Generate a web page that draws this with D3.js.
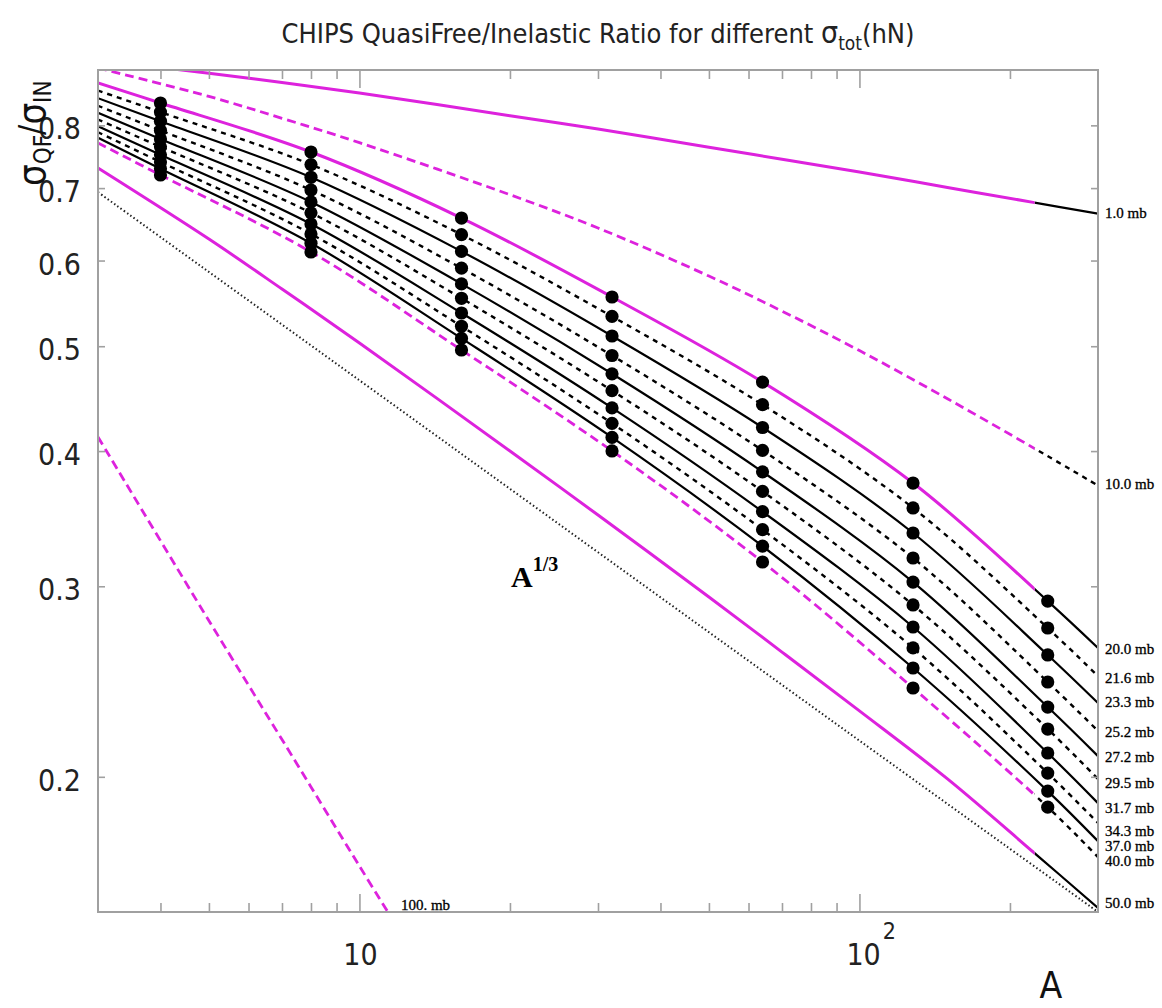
<!DOCTYPE html>
<html><head><meta charset="utf-8">
<script src="https://cdn.jsdelivr.net/npm/d3@7"></script>
<style>
body{margin:0;background:#fff;}
svg{display:block;}
.narrow{font-family:"DejaVu Sans Condensed","Liberation Sans Narrow",sans-serif;}
.serif{font-family:"Liberation Serif","Times New Roman",serif;}
</style></head><body>
<svg id="c" width="1162" height="1008"></svg>
<script>
// ---------------- data ----------------
const xTickMajor = [10, 100];
const xTickMinor = [4,5,6,7,8,9,20,30,40,50,60,70,80,90,200];
const yTicks = [0.2,0.3,0.4,0.5,0.6,0.7,0.8];
const yTickLabels = ["0.2","0.3","0.4","0.5","0.6","0.7","0.8"];

// band of curves sampled at these A values
const bandA = [3, 4, 8, 16, 32, 64, 128, 238, 300];
const bandNames = ["20.0 mb","21.6 mb","23.3 mb","25.2 mb","27.2 mb","29.5 mb","31.7 mb","34.3 mb","37.0 mb","40.0 mb"];
const r20_0 = [0.8754,0.8390,0.7559,0.6568,0.5552,0.4633,0.3737,0.2907,0.2631];
const r21_6 = [0.8614,0.8229,0.7359,0.6340,0.5327,0.4415,0.3544,0.2745,0.2478];
const r23_3 = [0.8476,0.8071,0.7163,0.6118,0.5110,0.4206,0.3360,0.2592,0.2340];
const r25_2 = [0.8340,0.7914,0.6972,0.5903,0.4902,0.4006,0.3186,0.2447,0.2205];
const r27_2 = [0.8215,0.7772,0.6797,0.5709,0.4715,0.3827,0.3027,0.2320,0.2090];
const r29_5 = [0.8100,0.7643,0.6641,0.5537,0.4549,0.3671,0.2883,0.2214,0.1991];
const r31_7 = [0.7986,0.7514,0.6485,0.5366,0.4385,0.3516,0.2751,0.2104,0.1891];
const r34_3 = [0.7884,0.7400,0.6349,0.5217,0.4243,0.3384,0.2631,0.2016,0.1813];
const r37_0 = [0.7792,0.7295,0.6225,0.5084,0.4118,0.3267,0.2521,0.1940,0.1744];
const r40_0 = [0.7705,0.7198,0.6110,0.4960,0.4001,0.3159,0.2416,0.1875,0.1686];
const bandLabelNudge = [1,2,-1,1,1,4,5,8,5,4];

// points (nuclei) where the ratio is marked
const dotA = [4, 8, 16, 32, 64, 128, 238];

// outer curves
const outerA = [3,5,7,10,20,30,50,70,100,150,224,300];
const r1_0  = [0.9194,0.8937,0.8762,0.8570,0.8166,0.7938,0.7637,0.7444,0.7244,0.7010,0.6787,0.6630];
const r10_0 = [0.9038,0.8508,0.8121,0.7710,0.6902,0.6430,0.5805,0.5388,0.4954,0.4471,0.4022,0.3717];
const r50_0 = [0.7306,0.6281,0.5647,0.5034,0.4001,0.3491,0.2932,0.2608,0.2301,0.1991,0.1700,0.1513];
const a100  = [3,5,7,10,11.4];
const r100  = [0.4122,0.2788,0.2165,0.1654,0.1500];

// A^{1/3} reference line
const cubeA = [3,10,30,100,300];
const cubeR = [0.694,0.465,0.3225,0.216,0.150];

const switchA = 224;   // magenta -> black change
// ---------------- drawing ----------------
const svg = d3.select("#c");
const L=98, R=1098, T=70, B=912;
const x = d3.scaleLog().domain([3,300]).range([L,R]);
const y = d3.scaleLog().domain([0.15,0.9]).range([B,T]);
const magenta = "#dd22dd";
const gray = "#a0a0a0";

const defs = svg.append("defs");
defs.append("clipPath").attr("id","plot").append("rect")
  .attr("x",L).attr("y",T).attr("width",R-L).attr("height",B-T);
defs.append("clipPath").attr("id","left").append("rect")
  .attr("x",L).attr("y",T).attr("width",x(switchA)-L).attr("height",B-T);
defs.append("clipPath").attr("id","right").append("rect")
  .attr("x",x(switchA)).attr("y",T).attr("width",R-x(switchA)).attr("height",B-T);

const line = d3.line().x(d=>x(d[0])).y(d=>y(d[1])).curve(d3.curveCatmullRom.alpha(0.5));
const zip = (a,b)=>a.map((v,i)=>[v,b[i]]);

const gLines = svg.append("g");
function draw(data, color, width, dash, clip){
  gLines.append("path").attr("d", line(data)).attr("fill","none")
    .attr("stroke",color).attr("stroke-width",width)
    .attr("stroke-dasharray",dash||null)
    .attr("clip-path","url(#"+clip+")");
}
const blackDash="5,5", magDash="9,5";

// A^1/3 dotted
draw(zip(cubeA,cubeR), "#222", 2, "1.5,2.5", "plot");

const band = [r20_0,r21_6,r23_3,r25_2,r27_2,r29_5,r31_7,r34_3,r37_0,r40_0];
band.forEach((r,i)=>{
  const dashed = i%2===1;
  const data = zip(bandA,r);
  if(i===0){
    draw(data,"#000",2.2,null,"right");
    draw(data,magenta,3,null,"left");
  } else if(i===band.length-1){
    draw(data,"#000",2.4,blackDash,"right");
    draw(data,magenta,2.8,magDash,"left");
  } else {
    draw(data,"#000",dashed?2.4:2.2,dashed?blackDash:null,"plot");
  }
});
// outer curves
[[r1_0,false],[r10_0,true],[r50_0,false]].forEach(([r,dashed])=>{
  const data = zip(outerA,r);
  draw(data,"#000",dashed?2.4:2.2,dashed?blackDash:null,"right");
  draw(data,magenta,dashed?2.8:3,dashed?magDash:null,"left");
});
draw(zip(a100,r100),magenta,2.8,magDash,"left");

// dots
const gDots = svg.append("g");
band.forEach(r=>{
  dotA.forEach(a=>{
    const idx = bandA.indexOf(a);
    gDots.append("circle").attr("cx",x(a)).attr("cy",y(r[idx])).attr("r",6.6).attr("fill","#000");
  });
});

// axes
function styleAxis(g){
  g.selectAll(".domain").remove();
  g.selectAll("line").attr("stroke",gray).attr("stroke-width",1.6);
  g.selectAll("text").remove();
}
svg.append("g").attr("transform",`translate(0,${B})`)
  .call(d3.axisBottom(x).tickValues(xTickMinor).tickSize(-9).tickSizeOuter(0)).call(styleAxis);
svg.append("g").attr("transform",`translate(0,${B})`)
  .call(d3.axisBottom(x).tickValues(xTickMajor).tickSize(-18).tickSizeOuter(0)).call(styleAxis);
svg.append("g").attr("transform",`translate(0,${T})`)
  .call(d3.axisTop(x).tickValues(xTickMinor).tickSize(-9).tickSizeOuter(0)).call(styleAxis);
svg.append("g").attr("transform",`translate(0,${T})`)
  .call(d3.axisTop(x).tickValues(xTickMajor).tickSize(-18).tickSizeOuter(0)).call(styleAxis);
svg.append("g").attr("transform",`translate(${L},0)`)
  .call(d3.axisLeft(y).tickValues(yTicks).tickSize(-7).tickSizeOuter(0)).call(styleAxis);
svg.append("g").attr("transform",`translate(${R},0)`)
  .call(d3.axisRight(y).tickValues(yTicks).tickSize(-7).tickSizeOuter(0)).call(styleAxis);
svg.append("rect").attr("x",L).attr("y",T).attr("width",R-L).attr("height",B-T)
  .attr("fill","none").attr("stroke",gray).attr("stroke-width",2);

// y tick labels
svg.append("g").selectAll("text").data(yTicks).join("text")
  .attr("class","narrow").attr("x",81).attr("y",d=>y(d)).attr("dy","0.47em")
  .attr("text-anchor","end").attr("font-size",30).attr("fill","#222")
  .text((d,i)=>yTickLabels[i]);
// x tick labels
svg.append("text").attr("class","narrow").attr("x",x(10)+1).attr("y",965)
  .attr("text-anchor","middle").attr("font-size",30).attr("fill","#222").text("10");
const t100 = svg.append("text").attr("class","narrow").attr("x",x(100)-13).attr("y",965)
  .attr("font-size",30).attr("fill","#222");
t100.append("tspan").text("10");
t100.append("tspan").attr("dy",-26).attr("font-size",23).attr("dx",2).text("2");

// axis titles
svg.append("text").attr("class","narrow").attr("x",1051).attr("y",998)
  .attr("text-anchor","middle").attr("font-size",37).attr("fill","#111").text("A");
const yl = svg.append("text").attr("class","narrow")
  .attr("transform","translate(45,186) rotate(-90)").attr("fill","#111").attr("font-size",38);
yl.append("tspan").text("σ");
yl.append("tspan").attr("font-size",24).attr("dy",6).text("QF");
yl.append("tspan").attr("font-size",34).attr("dy",-8).text("/");
yl.append("tspan").attr("font-size",38).attr("dy",2).text("σ");
yl.append("tspan").attr("font-size",24).attr("dy",6).text("IN");

// title
const tt = svg.append("text").attr("class","narrow").attr("x",598).attr("y",43)
  .attr("text-anchor","middle").attr("font-size",27).attr("fill","#222");
tt.append("tspan").text("CHIPS QuasiFree/Inelastic Ratio for different ");
tt.append("tspan").attr("font-size",30).text("σ");
tt.append("tspan").attr("font-size",19).attr("dy",7).text("tot");
tt.append("tspan").attr("dy",-7).text("(hN)");

// curve labels
const gLab = svg.append("g").attr("class","serif").attr("font-size",15).attr("fill","#000")
  .attr("stroke","#000").attr("stroke-width",0.3);
band.forEach((r,i)=>{
  gLab.append("text").attr("x",R+7).attr("y",y(r[r.length-1])+bandLabelNudge[i]).attr("dy","0.35em").text(bandNames[i]);
});
gLab.append("text").attr("x",R+7).attr("y",y(r1_0[r1_0.length-1])-1).attr("dy","0.35em").text("1.0 mb");
gLab.append("text").attr("x",R+7).attr("y",y(r10_0[r10_0.length-1])-2).attr("dy","0.35em").text("10.0 mb");
gLab.append("text").attr("x",R+7).attr("y",y(r50_0[r50_0.length-1])-5).attr("dy","0.35em").text("50.0 mb");
gLab.append("text").attr("x",x(a100[a100.length-1])+13).attr("y",B-7).attr("dy","0.35em").text("100. mb");
const cube = svg.append("text").attr("class","serif").attr("font-weight","bold")
  .attr("x",511).attr("y",587).attr("font-size",30).attr("fill","#000");
cube.append("tspan").text("A");
cube.append("tspan").attr("font-size",20).attr("dy",-16).text("1/3");
</script></body></html>
